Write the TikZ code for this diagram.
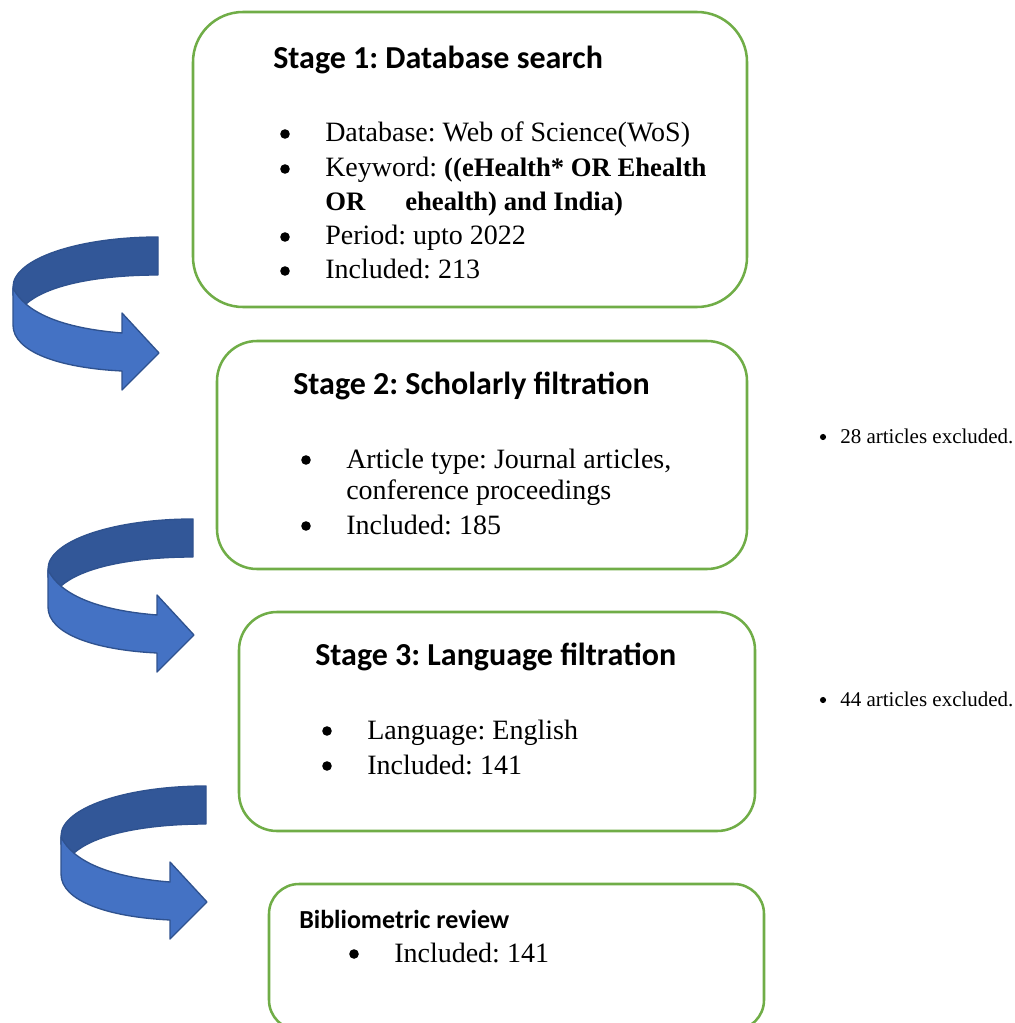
\documentclass[tikz,border=0pt]{standalone}
\usepackage{fontspec}
\setmainfont{Liberation Serif}
\newfontfamily\headfont{Carlito}
\usetikzlibrary{fit}
\frenchspacing

\definecolor{boxgreen}{RGB}{112,173,71}
\definecolor{bandlight}{RGB}{68,114,196}
\definecolor{banddark}{RGB}{50,87,152}
\definecolor{bandline}{RGB}{47,82,143}

% bold search terms, set a touch narrower
\newcommand{\kwbold}[1]{{\fontsize{20}{25}\selectfont\bfseries #1}}

\tikzset{
  stagebox/.style={draw=boxgreen, line width=1.9pt, fill=white, inner sep=0pt},
  headtxt/.style={anchor=base west, inner sep=0pt, font=\headfont\bfseries\fontsize{24}{28}\selectfont},
  smallhead/.style={anchor=base west, inner sep=0pt, font=\headfont\bfseries\fontsize{19.5}{23}\selectfont},
  bodytxt/.style={anchor=base west, inner sep=0pt, font=\fontsize{21}{25}\selectfont},
  bulletmark/.style={circle, fill=black, inner sep=0pt, minimum size=7.2pt},
  notetxt/.style={anchor=base west, inner sep=0pt, font=\fontsize{15.75}{19}\selectfont},
  notebullet/.style={circle, fill=black, inner sep=0pt, minimum size=4.6pt},
  darkband/.style={fill=banddark, draw=bandline, line width=1pt, line join=round},
  lightband/.style={fill=bandlight, draw=bandline, line width=1pt, line join=round},
}

% curved U-turn arrow, drawn in the local frame of the first one
\newcommand{\uturnarrow}{%
  \path[darkband] (158,237) .. controls (78,237) and (13,259) .. (13,287)
     -- (13,295) -- (26,304)
     .. controls (50,283) and (105,275) .. (158,275) -- cycle;
  \path[lightband] (13,288) -- (13,325)
     .. controls (13,352) and (60,368) .. (122,371)
     -- (122,390) -- (159,353) -- (122,313) -- (122,333)
     .. controls (60,328) and (25,312) .. (13,288) -- cycle;
}

\begin{document}
\begin{tikzpicture}[x=0.75pt, y=-0.75pt]
\useasboundingbox (0,0) rectangle (1014,1023);
\clip (0,0) rectangle (1014,1023);

% stage boxes
\node[stagebox, rounded corners=37.5pt, fit={(193,12) (747,307)}] (s1) {};
\node[stagebox, rounded corners=30pt, fit={(217,341) (747,569)}] (s2) {};
\node[stagebox, rounded corners=28.5pt, fit={(239,612) (755,831)}] (s3) {};
\node[stagebox, rounded corners=22.5pt, fit={(269,884) (764,1030)}] (s4) {};

% stage 1
\node[headtxt] (h1) at (273,69) {Stage 1: Database search};
\node[bulletmark] (b11) at (285,134) {};
\node[bodytxt] (t11) at (325,142) {Database: Web of Science(WoS)};
\node[bulletmark] (b12) at (285,169) {};
\node[bodytxt] (t12) at (325,177) {Keyword: \kwbold{((eHealth* OR Ehealth}};
\node[bodytxt] (t12a) at (325,211) {\kwbold{OR}};
\node[bodytxt] (t12b) at (405,211) {\kwbold{ehealth) and India)}};
\node[bulletmark] (b13) at (285,237) {};
\node[bodytxt] (t13) at (325,245) {Period: upto 2022};
\node[bulletmark] (b14) at (285,271) {};
\node[bodytxt] (t14) at (325,279) {Included: 213};

% stage 2
\node[headtxt] (h2) at (293,394) {Stage 2: Scholarly filtration};
\node[bulletmark] (b21) at (306,460) {};
\node[bodytxt] (t21) at (346,468) {Article type: Journal articles,};
\node[bodytxt] (t21a) at (346,499) {conference proceedings};
\node[bulletmark] (b22) at (306,526) {};
\node[bodytxt] (t22) at (346,534) {Included: 185};

% stage 3
\node[headtxt] (h3) at (315,665) {Stage 3: Language filtration};
\node[bulletmark] (b31) at (327,731) {};
\node[bodytxt] (t31) at (367,739) {Language: English};
\node[bulletmark] (b32) at (327,766) {};
\node[bodytxt] (t32) at (367,774) {Included: 141};

% final review
\node[smallhead] (h4) at (299,928) {Bibliometric review};
\node[bulletmark] (b41) at (354,954) {};
\node[bodytxt] (t41) at (394,962) {Included: 141};

% exclusion notes
\node[notebullet] (n1b) at (823,437) {};
\node[notetxt] (n1) at (840,443) {28 articles excluded.};
\node[notebullet] (n2b) at (823,700) {};
\node[notetxt] (n2) at (840,706) {44 articles excluded.};

% U-turn arrows between stages
\uturnarrow
\begin{scope}[shift={(35,282)}]\uturnarrow\end{scope}
\begin{scope}[shift={(48,549)}]\uturnarrow\end{scope}
\end{tikzpicture}
\end{document}
